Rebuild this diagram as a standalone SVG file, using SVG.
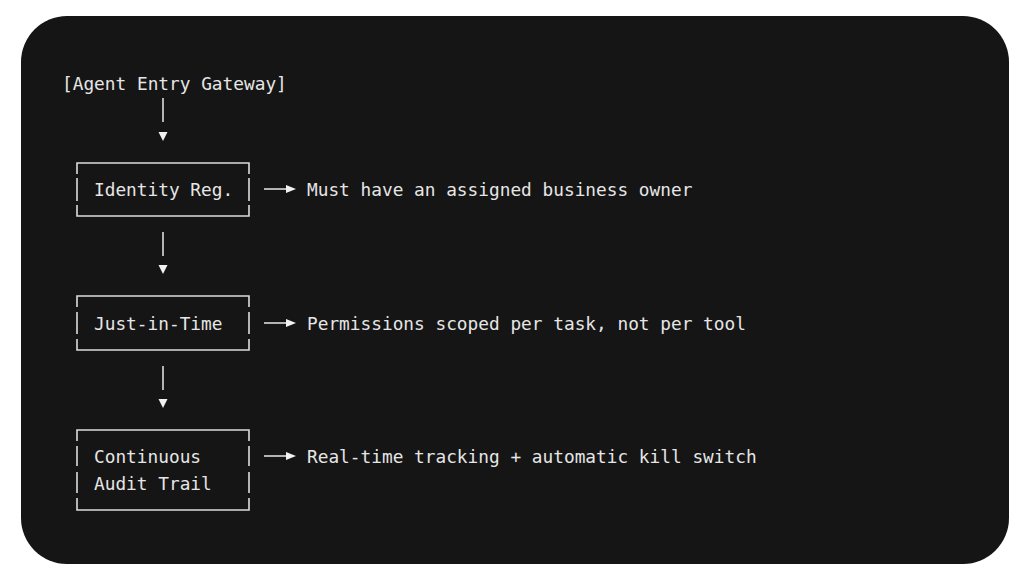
<svg xmlns="http://www.w3.org/2000/svg" width="1024" height="583" viewBox="0 0 1024 583">
<style>
.t{font-family:"DejaVu Sans Mono","Liberation Mono",monospace;font-size:17.8px;fill:#e6e6e6}
.b{stroke:#dcdcdc;stroke-width:1.6;fill:none}
.c{stroke:#dcdcdc;stroke-width:1.6;fill:none}
.h{fill:#f2f2f2}
</style>
<rect x="0" y="0" width="1024" height="583" fill="#ffffff"/>
<rect id="panel" x="21" y="16" width="988" height="548" rx="46" ry="46" fill="#151515"/>
<g id="gateway"><text class="t" x="62" y="90">[Agent Entry Gateway]</text></g>
<g id="identity">
<path class="b" d="M77,174 V163 H249 V174 M77,178 V201 M249,178 V201 M77,205 V216 H249 V205"/>
<text class="t" x="94" y="196">Identity Reg.</text>
</g>
<g id="jit">
<path class="b" d="M77,307 V296 H249 V307 M77,312 V334 M249,312 V334 M77,339 V350 H249 V339"/>
<text class="t" x="94" y="330">Just-in-Time</text>
</g>
<g id="audit">
<path class="b" d="M77,441 V430 H249 V441 M77,446 V466 M249,446 V466 M77,472 V493 M249,472 V493 M77,498 V510 H249 V498"/>
<text class="t" x="94" y="463">Continuous</text>
<text class="t" x="94" y="490">Audit Trail</text>
</g>
<g id="note1"><text class="t" x="307" y="196">Must have an assigned business owner</text></g>
<g id="note2"><text class="t" x="307" y="330">Permissions scoped per task, not per tool</text></g>
<g id="note3"><text class="t" x="307" y="463">Real-time tracking + automatic kill switch</text></g>
<g id="connectors">
<path class="c" d="M163,98 V122"/><polygon class="h" points="158.5,132 167.5,132 163,141"/>
<path class="c" d="M163,232 V256"/><polygon class="h" points="158.5,265 167.5,265 163,274"/>
<path class="c" d="M163,366 V390"/><polygon class="h" points="158.5,399 167.5,399 163,408"/>
<path class="c" d="M264,189 H288"/><polygon class="h" points="286,185 296,189 286,193"/>
<path class="c" d="M264,323 H288"/><polygon class="h" points="286,319 296,323 286,327"/>
<path class="c" d="M264,456 H288"/><polygon class="h" points="286,452 296,456 286,460"/>
</g>
</svg>
